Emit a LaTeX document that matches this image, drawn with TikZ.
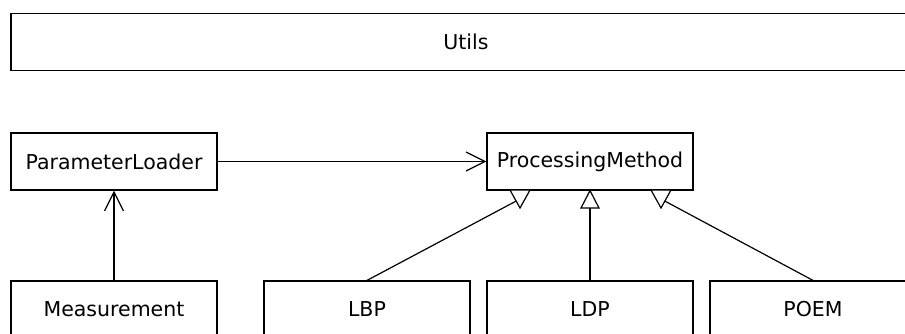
\documentclass[tikz,border=0pt]{standalone}
\usepackage{fontspec}
\setmainfont{DejaVu Sans}
\usetikzlibrary{arrows.meta}
\begin{document}
\begin{tikzpicture}[x=1pt,y=-1pt,
  cls/.style={draw=black, line width=1.2pt, fill=white, minimum width=206pt, minimum height=57pt, inner sep=0pt, font=\fontsize{20.5}{24}\selectfont},
  conn/.style={draw=black, line width=1.2pt},
  dep/.style={conn, -{Straight Barb[length=19pt,width=19pt,line width=1.2pt]}},
  tri/.style={draw=black, line width=1.2pt, fill=white, line join=miter}
]
\useasboundingbox (0,0) rectangle (905,333);
\clip (0,0) rectangle (905,333);
\node[cls, minimum width=910pt] (utils) at (466,42) {Utils};
\node[cls] (pl) at (114,161.5) {ParameterLoader};
\node[cls] (pm) at (590,161.5) {ProcessingMethod};
\node[cls] (meas) at (114,309.5) {Measurement};
\node[cls] (lbp) at (367,309.5) {LBP};
\node[cls] (ldp) at (590,309.5) {LDP};
\node[cls] (poem) at (813,309.5) {POEM};
% dependencies
\draw[dep] (pl.east) -- (pm.west);
\draw[dep] (meas.north) -- (pl.south);
% generalizations
\coordinate (tl) at (520,199);
\coordinate (tr) at (661,199);
\draw[conn] (lbp.north) -- (tl);
\draw[conn] (poem.north) -- (tr);
\draw[tri] (510,190) -- (530,190) -- (520,208) -- cycle;
\draw[tri] (651,190) -- (671,190) -- (661,208) -- cycle;
\draw[conn] (ldp.north) -- (590,208);
\draw[tri] (pm.south) -- (581,208) -- (599,208) -- cycle;
\end{tikzpicture}
\end{document}
